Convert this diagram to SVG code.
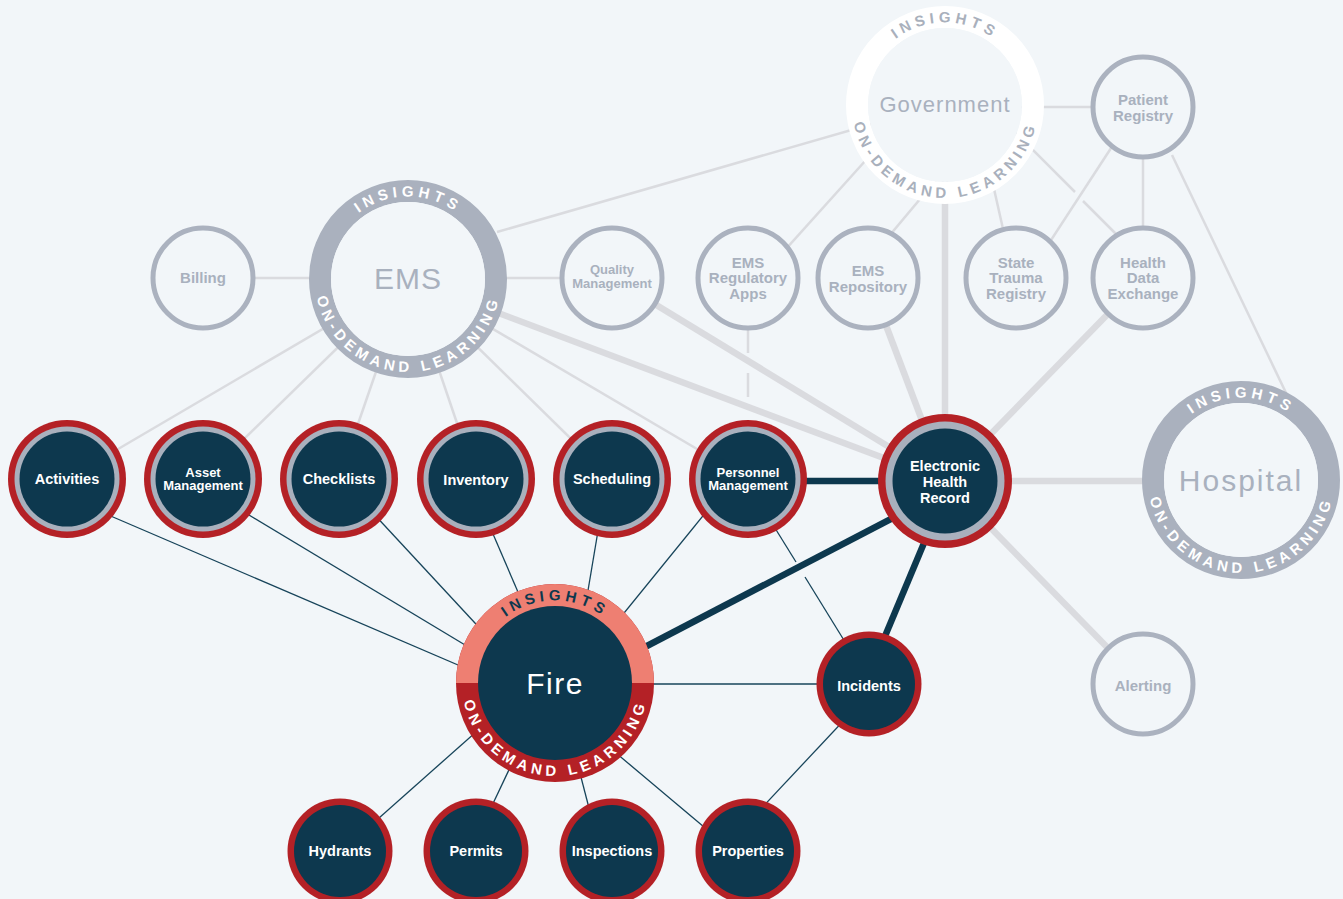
<svg xmlns="http://www.w3.org/2000/svg" width="1343" height="899" viewBox="0 0 1343 899">
<style>
.bg{fill:#f2f6f9}
.lt{stroke:#dadbdf;stroke-width:2.5;fill:none}
.tk{stroke:#dadbdf;stroke-width:6.5;fill:none}
.nv{stroke:#17445a;stroke-width:1.3;fill:none}
.nvt{stroke:#0d384e;stroke-width:6.5;fill:none}
.gn{fill:#f2f6f9;stroke:#abb2bf;stroke-width:5}
.gt{font-family:"Liberation Sans",Arial,sans-serif;font-weight:bold;font-size:15px;fill:#a9b1be;text-anchor:middle}
.gts{font-size:13px}
.wt{font-family:"Liberation Sans",Arial,sans-serif;font-weight:bold;font-size:14.5px;fill:#ffffff;text-anchor:middle}
.wts{font-size:13px}
.red{fill:#b42126}
.gry{fill:#a9b0bd}
.navy{fill:#0d384e}
.hub{font-family:"Liberation Sans",Arial,sans-serif;text-anchor:middle;fill:#a9b1be}
.arc{font-family:"Liberation Sans",Arial,sans-serif;font-weight:bold;font-size:15px;letter-spacing:4.4px;text-anchor:middle}
</style>
<defs>
<path id="govT" d="M862.5,105 A82.5,82.5 0 0 1 1027.5,105"/>
<path id="govB" d="M852,105 A93,93 0 0 0 1038,105"/>
<path id="emsT" d="M325.5,279 A82.5,82.5 0 0 1 490.5,279"/>
<path id="emsB" d="M315,279 A93,93 0 0 0 501,279"/>
<path id="hosT" d="M1158.5,480 A82.5,82.5 0 0 1 1323.5,480"/>
<path id="hosB" d="M1148,480 A93,93 0 0 0 1334,480"/>
<path id="fireT" d="M472.5,683 A82.5,82.5 0 0 1 637.5,683"/>
<path id="fireB" d="M462,683 A93,93 0 0 0 648,683"/>
</defs>
<rect x="0" y="0" width="1343" height="899" class="bg"/>

<g id="connectors">
<line class="lt" x1="497" y1="232" x2="900" y2="116"/>
<line class="lt" x1="203" y1="278" x2="408" y2="278"/>
<line class="lt" x1="408" y1="278" x2="612" y2="278"/>
<line class="lt" x1="408" y1="279" x2="67" y2="479"/>
<line class="lt" x1="408" y1="279" x2="203" y2="479"/>
<line class="lt" x1="408" y1="279" x2="339" y2="479"/>
<line class="lt" x1="408" y1="279" x2="476" y2="479"/>
<line class="lt" x1="408" y1="279" x2="612" y2="479"/>
<line class="lt" x1="408" y1="279" x2="748" y2="479"/>
<line class="lt" x1="875" y1="150" x2="776" y2="260"/>
<line class="lt" x1="936" y1="180" x2="869" y2="260"/>
<line class="lt" x1="992" y1="180" x2="1010" y2="260"/>
<line class="lt" x1="1000" y1="117" x2="1075" y2="192"/>
<line class="lt" x1="1083" y1="201" x2="1125" y2="243"/>
<line class="lt" x1="1000" y1="107" x2="1143" y2="107"/>
<line class="lt" x1="1143" y1="107" x2="1143" y2="278"/>
<line class="lt" x1="1115" y1="142" x2="1040" y2="257"/>
<line class="lt" x1="1172" y1="155" x2="1299" y2="420"/>
<line class="lt" x1="748" y1="320" x2="748" y2="353"/>
<line class="lt" x1="748" y1="373" x2="748" y2="397"/>

<line class="tk" x1="408" y1="279" x2="945" y2="481"/>
<line class="tk" x1="612" y1="278" x2="945" y2="481"/>
<line class="tk" x1="868" y1="278" x2="945" y2="481"/>
<line class="tk" x1="945" y1="105" x2="945" y2="481"/>
<line class="tk" x1="1143" y1="278" x2="945" y2="481"/>
<line class="tk" x1="945" y1="481" x2="1241" y2="481"/>
<line class="tk" x1="945" y1="481" x2="1143" y2="684"/>

<line class="nv" x1="99" y1="511" x2="500" y2="683"/>
<line class="nv" x1="239" y1="509" x2="500" y2="666"/>
<line class="nv" x1="372" y1="512" x2="500" y2="650"/>
<line class="nv" x1="490" y1="527" x2="543" y2="650"/>
<line class="nv" x1="599" y1="525" x2="578" y2="650"/>
<line class="nv" x1="711" y1="506" x2="594" y2="650"/>
<line class="nv" x1="555" y1="684" x2="869" y2="684"/>
<line class="nv" x1="370" y1="826" x2="512" y2="700"/>
<line class="nv" x1="489" y1="812" x2="542" y2="700"/>
<line class="nv" x1="589" y1="808" x2="561" y2="700"/>
<line class="nv" x1="704" y1="827" x2="553" y2="700"/>
<line class="nv" x1="863" y1="700" x2="741" y2="830"/>
<line class="nv" x1="770" y1="520" x2="796" y2="562"/>
<line class="nv" x1="805" y1="577" x2="850" y2="650"/>

<line class="nvt" x1="748" y1="481" x2="945" y2="481"/>
<line class="nvt" x1="910" y1="509" x2="620" y2="660"/>
<line class="nvt" x1="942" y1="500" x2="865" y2="684"/>
</g>

<g id="government">
<circle cx="945" cy="105" r="88" fill="none" stroke="#ffffff" stroke-width="22"/>
<circle cx="945" cy="105" r="77" class="bg"/>
<text class="hub" x="945" y="112" font-size="22" letter-spacing="1">Government</text>
<text class="arc" fill="#a9b0bc"><textPath href="#govT" startOffset="50%">INSIGHTS</textPath></text>
<text class="arc" fill="#a9b0bc"><textPath href="#govB" startOffset="50%">ON-DEMAND LEARNING</textPath></text>
</g>

<g id="ems">
<circle cx="408" cy="279" r="88" fill="none" stroke="#aab1be" stroke-width="22"/>
<circle cx="408" cy="279" r="77" class="bg"/>
<text class="hub" x="408" y="289" font-size="30" letter-spacing="1">EMS</text>
<text class="arc" fill="#ffffff"><textPath href="#emsT" startOffset="50%">INSIGHTS</textPath></text>
<text class="arc" fill="#ffffff"><textPath href="#emsB" startOffset="50%">ON-DEMAND LEARNING</textPath></text>
</g>

<g id="hospital">
<circle cx="1241" cy="480" r="88" fill="none" stroke="#aab1be" stroke-width="22"/>
<circle cx="1241" cy="480" r="77" class="bg"/>
<text class="hub" x="1241" y="491" font-size="30" letter-spacing="2">Hospital</text>
<text class="arc" fill="#ffffff"><textPath href="#hosT" startOffset="50%">INSIGHTS</textPath></text>
<text class="arc" fill="#ffffff"><textPath href="#hosB" startOffset="50%">ON-DEMAND LEARNING</textPath></text>
</g>

<g id="fire">
<circle cx="555" cy="683" r="99" class="red"/>
<path d="M456,683 A99,99 0 0 1 654,683 Z" fill="#ee7f72"/>
<circle cx="555" cy="683" r="77" class="navy"/>
<text class="hub" x="555" y="694" font-size="30" letter-spacing="1.5" style="fill:#ffffff">Fire</text>
<text class="arc" fill="#0d384e"><textPath href="#fireT" startOffset="50%">INSIGHTS</textPath></text>
<text class="arc" fill="#ffffff"><textPath href="#fireB" startOffset="50%">ON-DEMAND LEARNING</textPath></text>
</g>

<g id="billing"><circle class="gn" cx="203" cy="278" r="50"/><text class="gt" x="203" y="283">Billing</text></g>
<g id="quality-management"><circle class="gn" cx="612" cy="278" r="50"/><text class="gt gts" x="612" y="274">Quality</text><text class="gt gts" x="612" y="288">Management</text></g>
<g id="ems-regulatory-apps"><circle class="gn" cx="748" cy="278" r="50"/><text class="gt" x="748" y="268">EMS</text><text class="gt" x="748" y="283">Regulatory</text><text class="gt" x="748" y="299">Apps</text></g>
<g id="ems-repository"><circle class="gn" cx="868" cy="278" r="50"/><text class="gt" x="868" y="276">EMS</text><text class="gt" x="868" y="292">Repository</text></g>
<g id="state-trauma-registry"><circle class="gn" cx="1016" cy="278" r="50"/><text class="gt" x="1016" y="268">State</text><text class="gt" x="1016" y="283">Trauma</text><text class="gt" x="1016" y="299">Registry</text></g>
<g id="health-data-exchange"><circle class="gn" cx="1143" cy="278" r="50"/><text class="gt" x="1143" y="268">Health</text><text class="gt" x="1143" y="283">Data</text><text class="gt" x="1143" y="299">Exchange</text></g>
<g id="patient-registry"><circle class="gn" cx="1143" cy="107" r="50"/><text class="gt" x="1143" y="105">Patient</text><text class="gt" x="1143" y="121">Registry</text></g>
<g id="alerting"><circle class="gn" cx="1143" cy="684" r="50"/><text class="gt" x="1143" y="691">Alerting</text></g>

<g id="activities"><circle class="red" cx="67" cy="479" r="59"/><circle class="gry" cx="67" cy="479" r="52.5"/><circle class="navy" cx="67" cy="479" r="47.5"/><text class="wt" x="67" y="484">Activities</text></g>
<g id="asset-management"><circle class="red" cx="203" cy="479" r="59"/><circle class="gry" cx="203" cy="479" r="52.5"/><circle class="navy" cx="203" cy="479" r="47.5"/><text class="wt wts" x="203" y="477">Asset</text><text class="wt wts" x="203" y="490">Management</text></g>
<g id="checklists"><circle class="red" cx="339" cy="479" r="59"/><circle class="gry" cx="339" cy="479" r="52.5"/><circle class="navy" cx="339" cy="479" r="47.5"/><text class="wt" x="339" y="484">Checklists</text></g>
<g id="inventory"><circle class="red" cx="476" cy="479" r="59"/><circle class="gry" cx="476" cy="479" r="52.5"/><circle class="navy" cx="476" cy="479" r="47.5"/><text class="wt" x="476" y="485">Inventory</text></g>
<g id="scheduling"><circle class="red" cx="612" cy="479" r="59"/><circle class="gry" cx="612" cy="479" r="52.5"/><circle class="navy" cx="612" cy="479" r="47.5"/><text class="wt" x="612" y="484">Scheduling</text></g>
<g id="personnel-management"><circle class="red" cx="748" cy="479" r="59"/><circle class="gry" cx="748" cy="479" r="52.5"/><circle class="navy" cx="748" cy="479" r="47.5"/><text class="wt wts" x="748" y="477">Personnel</text><text class="wt wts" x="748" y="490">Management</text></g>
<g id="electronic-health-record"><circle class="red" cx="945" cy="481" r="67"/><circle class="gry" cx="945" cy="481" r="59.5"/><circle class="navy" cx="945" cy="481" r="52.5"/><text class="wt" x="945" y="471" font-size="15">Electronic</text><text class="wt" x="945" y="487" font-size="15">Health</text><text class="wt" x="945" y="503" font-size="15">Record</text></g>
<g id="incidents"><circle class="red" cx="869" cy="684" r="52.5"/><circle class="navy" cx="869" cy="684" r="46"/><text class="wt" x="869" y="691">Incidents</text></g>
<g id="hydrants"><circle class="red" cx="340" cy="851" r="52.5"/><circle class="navy" cx="340" cy="851" r="46"/><text class="wt" x="340" y="856">Hydrants</text></g>
<g id="permits"><circle class="red" cx="476" cy="851" r="52.5"/><circle class="navy" cx="476" cy="851" r="46"/><text class="wt" x="476" y="856">Permits</text></g>
<g id="inspections"><circle class="red" cx="612" cy="851" r="52.5"/><circle class="navy" cx="612" cy="851" r="46"/><text class="wt" x="612" y="856">Inspections</text></g>
<g id="properties"><circle class="red" cx="748" cy="851" r="52.5"/><circle class="navy" cx="748" cy="851" r="46"/><text class="wt" x="748" y="856">Properties</text></g>
</svg>
